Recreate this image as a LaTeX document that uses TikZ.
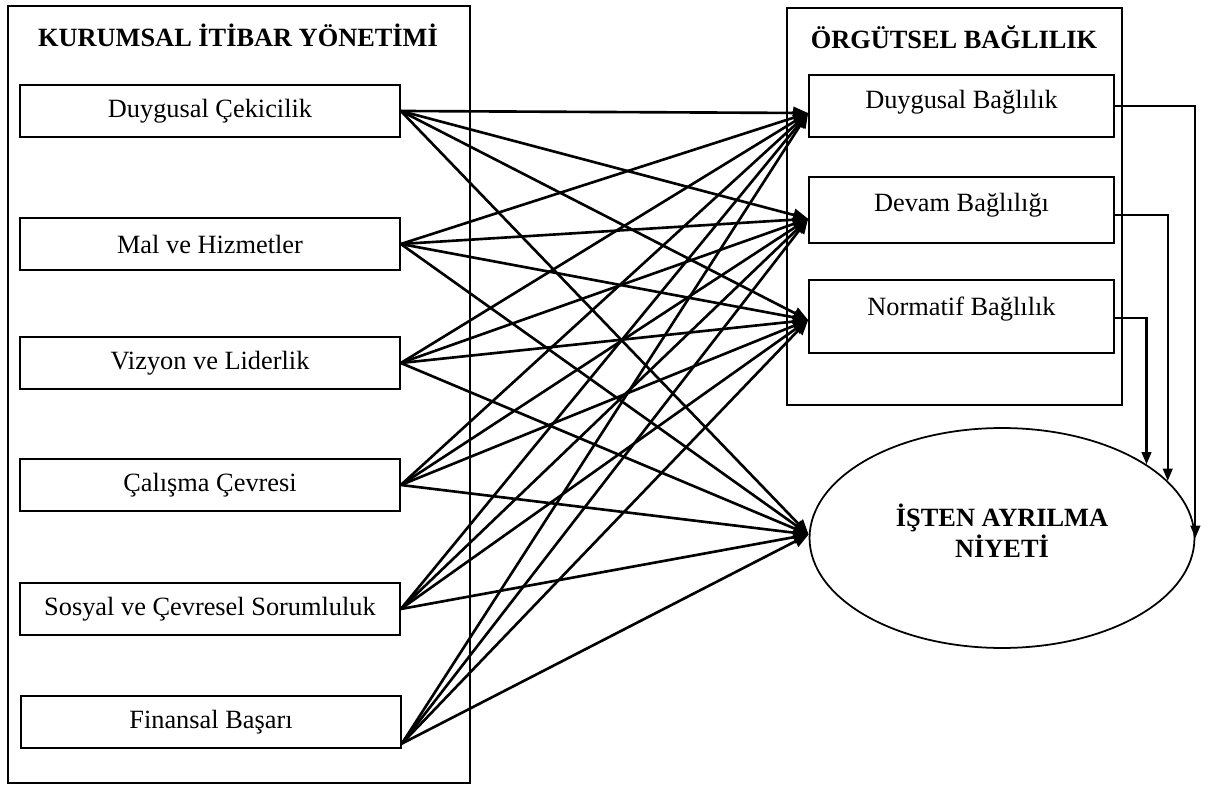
\documentclass[tikz,border=0pt]{standalone}
\usepackage{fontspec}
\setmainfont{Liberation Serif}
\usepackage{xcolor}
\usepackage{tikz}
\usetikzlibrary{calc,fit,shapes.geometric,arrows.meta}

\begin{document}
\begin{tikzpicture}[x=0.02cm,y=-0.02cm,
  font=\fontsize{15}{18}\selectfont,
  frame/.style={draw,line width=1pt,inner sep=0pt},
  lbox/.style={draw,line width=1pt,inner sep=0pt,minimum width=7.6cm,minimum height=1.04cm},
  rbox/.style={draw,line width=1pt,inner sep=0pt,minimum width=6.1cm},
  head/.style={font=\fontsize{15}{17.6}\selectfont\bfseries},
  link/.style={line width=1.5pt,-{Triangle[length=8.5pt,width=7pt]}},
  back/.style={line width=1.2pt,-{Triangle[length=7pt,width=5.5pt]}}]
\useasboundingbox (0,0) rectangle (1213,786);

% left block
\node[frame,fit={(8,6) (470,783)}] (kiy) {};
\node[head] (kiyt) at (238,35) {KURUMSAL İTİBAR YÖNETİMİ};
\node[lbox] (dc) at (210,111) {Duygusal Çekicilik};
\node[lbox] (mh) at (210,244) {Mal ve Hizmetler};
\node[lbox] (vl) at (210,363) {Vizyon ve Liderlik};
\node[lbox] (cc) at (210,485) {Çalışma Çevresi};
\node[lbox] (sc) at (210,609) {Sosyal ve Çevresel Sorumluluk};
\node[lbox] (fb) at (211,722) {Finansal Başarı};

% right block
\node[frame,fit={(787,8) (1122,405)}] (ob) {};
\node[head] (obt) at (954,37) {ÖRGÜTSEL BAĞLILIK};
\node[rbox,minimum height=1.24cm,text depth=7pt] (da) at (961.5,106) {Duygusal Bağlılık};
\node[rbox,minimum height=1.32cm,text depth=9pt] (db) at (961.5,210) {Devam Bağlılığı};
\node[rbox,minimum height=1.46cm,text depth=12pt] (dn) at (961.5,316.5) {Normatif Bağlılık};

\node[draw,ellipse,line width=1pt,minimum width=7.7cm,minimum height=4.4cm,
  head,align=center,text depth=8pt] (ni) at (1002,538) {İŞTEN AYRILMA\\NİYETİ};

% all paths
\foreach \s/\sy in {dc.east/0pt,mh.east/0pt,vl.east/0pt,cc.east/0pt,sc.east/0pt,fb.south east/3pt}
  \foreach \t/\ty in {da/-4pt,db/-5pt,dn/-2pt,ni/2pt}
    \draw[link] ([yshift=\sy]\s) -- ([yshift=\ty]\t.west);

\draw[back] (da.east) -| (ni.east);
\draw[back] ([yshift=-3pt]db.east) -| (ni.19.5);
\draw[back] ([yshift=-1pt]dn.east) -| (ni.27);
\end{tikzpicture}
\end{document}
